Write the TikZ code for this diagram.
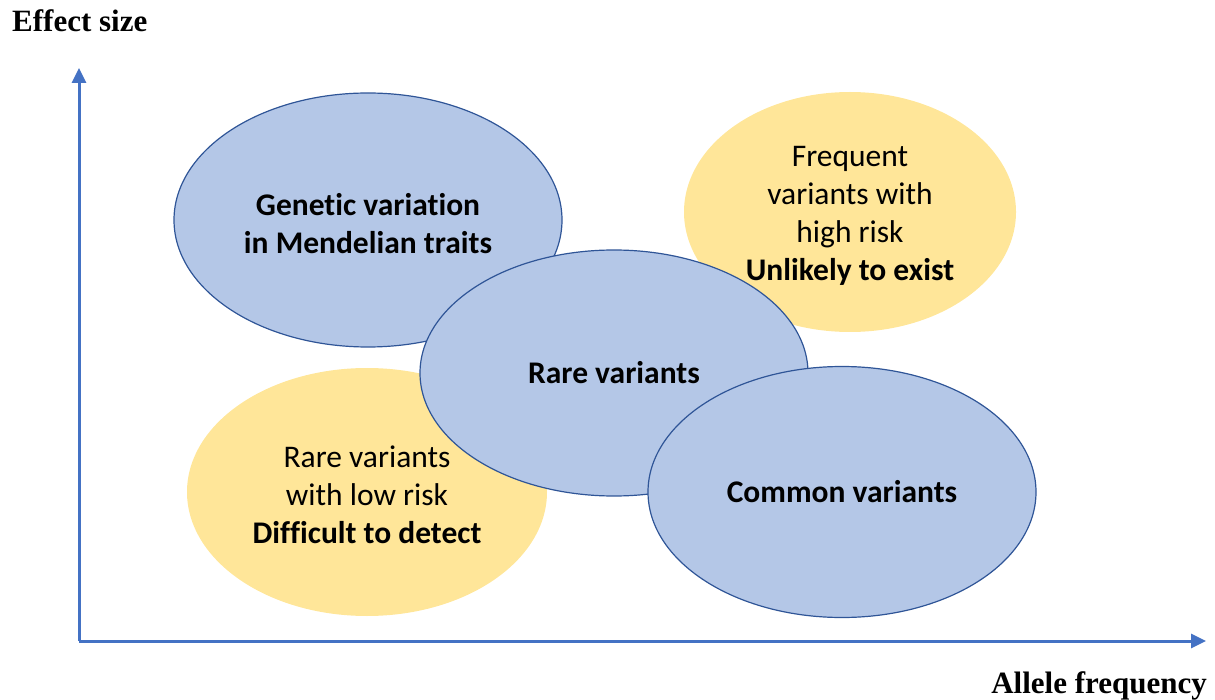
\documentclass[tikz,border=0pt]{standalone}
\usepackage{fontspec}
\setmainfont{Carlito}[Ligatures=NoCommon]
\newfontfamily\axisfont{Liberation Serif}
\usetikzlibrary{shapes.geometric,arrows.meta}
\definecolor{blobblue}{HTML}{B4C7E7}
\definecolor{blobedge}{HTML}{2F5597}
\definecolor{blobyellow}{HTML}{FFE699}
\definecolor{axisblue}{HTML}{4472C4}
\begin{document}
\begin{tikzpicture}[x=1pt,y=-1pt,
  blob/.style={ellipse, inner sep=0pt},
  blobtext/.style={inner sep=0pt, align=center,
    font=\fontsize{31.5}{38}\selectfont},
  blueblob/.style={blob, fill=blobblue, draw=blobedge, line width=1.2pt},
  yellowblob/.style={blob, fill=blobyellow},
  axisline/.style={draw=axisblue, line width=3pt,
    -{Triangle[length=15pt,width=14pt]}},
  axislabel/.style={font=\axisfont\bfseries\fontsize{31}{36}\selectfont}]
  \useasboundingbox (0,0) rectangle (1215,700);

  % axes
  \coordinate (origin) at (79,641);
  \coordinate (ytip) at (79,68);
  \coordinate (xtip) at (1206,641);
  \draw[axisline] (origin) -- (ytip);
  \draw[axisline] (origin) -- (xtip);
  \node[axislabel, anchor=base west, inner sep=0pt] (ylab) at (12,32) {Effect size};
  \node[axislabel, anchor=base east, inner sep=0pt] (xlab) at (1207,693) {Allele frequency};

  % low-lying regions
  \node[yellowblob, minimum width=332pt, minimum height=240pt] (highrisk) at (850,212) {};
  \node[blobtext, yshift=-4pt] (highrisktext) at (highrisk)
    {Frequent\\variants with\\high risk\\\textbf{Unlikely to exist}};
  \node[yellowblob, minimum width=360pt, minimum height=248pt] (lowrisk) at (367,492) {};
  \node[blobtext, yshift=-3pt] (lowrisktext) at (lowrisk)
    {Rare variants\\with low risk\\\textbf{Difficult to detect}};

  % variant classes
  \node[blueblob, minimum width=388pt, minimum height=254pt] (mendel) at (368,220) {};
  \node[blobtext, yshift=-4pt] (mendeltext) at (mendel)
    {\textbf{Genetic variation}\\\textbf{in Mendelian traits}};
  \node[blueblob, minimum width=388pt, minimum height=246pt] (rare) at (614,373) {};
  \node[blobtext] (raretext) at (rare) {\textbf{Rare variants}};
  \node[blueblob, minimum width=388pt, minimum height=251pt] (common) at (842,492) {};
  \node[blobtext] (commontext) at (common) {\textbf{Common variants}};
\end{tikzpicture}
\end{document}
